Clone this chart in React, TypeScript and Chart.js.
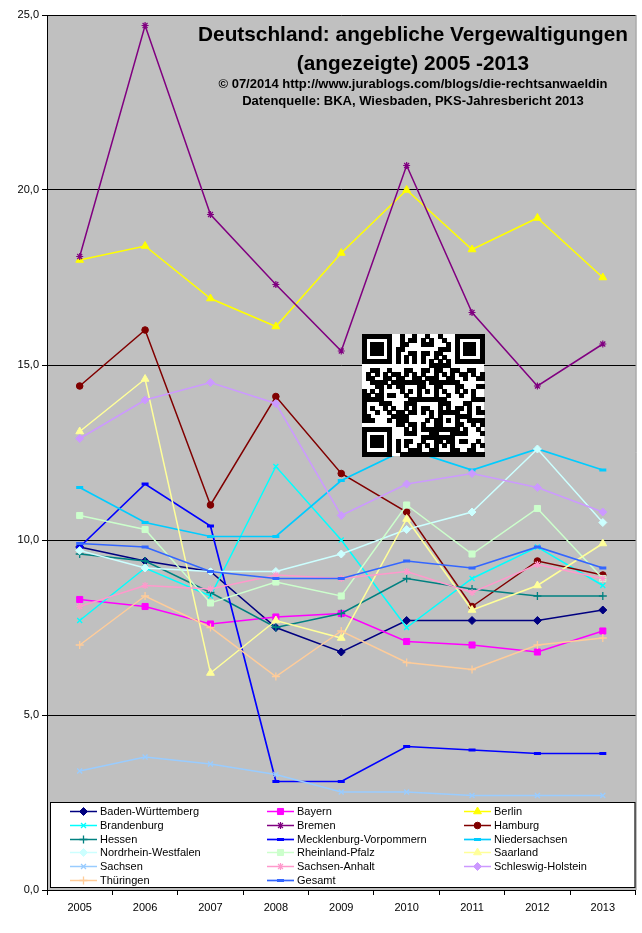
import React, { useEffect, useRef } from "react";
import { Chart, registerables } from "chart.js";
import { drawPoint } from "chart.js/helpers";

Chart.register(...registerables);

const years = ["2005", "2006", "2007", "2008", "2009", "2010", "2011", "2012", "2013"];

const badenWuerttemberg = [9.8, 9.4, 9.1, 7.5, 6.8, 7.7, 7.7, 7.7, 8.0];
const bayern = [8.3, 8.1, 7.6, 7.8, 7.9, 7.1, 7.0, 6.8, 7.4];
const berlin = [18.0, 18.4, 16.9, 16.1, 18.2, 20.0, 18.3, 19.2, 17.5];
const brandenburg = [7.7, 9.2, 8.4, 12.1, 10.0, 7.5, 8.9, 9.8, 8.7];
const bremen = [18.1, 24.7, 19.3, 17.3, 15.4, 20.7, 16.5, 14.4, 15.6];
const hamburg = [14.4, 16.0, 11.0, 14.1, 11.9, 10.8, 8.1, 9.4, 9.0];
const hessen = [9.6, 9.4, 8.5, 7.5, 7.9, 8.9, 8.6, 8.4, 8.4];
const mecklenburgVorpommern = [9.8, 11.6, 10.4, 3.1, 3.1, 4.1, 4.0, 3.9, 3.9];
const niedersachsen = [11.5, 10.5, 10.1, 10.1, 11.7, 12.6, 12.0, 12.6, 12.0];
const nordrheinWestfalen = [9.7, 9.2, 9.1, 9.1, 9.6, 10.3, 10.8, 12.6, 10.5];
const rheinlandPfalz = [10.7, 10.3, 8.2, 8.8, 8.4, 11.0, 9.6, 10.9, 8.9];
const saarland = [13.1, 14.6, 6.2, 7.7, 7.2, 10.6, 8.0, 8.7, 9.9];
const sachsen = [3.4, 3.8, 3.6, 3.3, 2.8, 2.8, 2.7, 2.7, 2.7];
const sachsenAnhalt = [8.1, 8.7, 8.6, 9.0, 8.9, 9.1, 8.5, 9.3, 8.9];
const schleswigHolstein = [12.9, 14.0, 14.5, 13.9, 10.7, 11.6, 11.9, 11.5, 10.8];
const thueringen = [7.0, 8.4, 7.5, 6.1, 7.4, 6.5, 6.3, 7.0, 7.2];
const gesamt = [9.9, 9.8, 9.1, 8.9, 8.9, 9.4, 9.2, 9.8, 9.2];

const yTicks = [0, 5, 10, 15, 20, 25];

const titleLines = [
  "Deutschland: angebliche Vergewaltigungen",
  "(angezeigte) 2005 -2013",
  "© 07/2014 http://www.jurablogs.com/blogs/die-rechtsanwaeldin",
  "Datenquelle: BKA, Wiesbaden, PKS-Jahresbericht 2013",
];

const FONT = '"Liberation Sans", Arial, sans-serif';

type SeriesDef = {
  label: string;
  data: number[];
  color: string;
  style: string;
  radius: number;
  bw: number;
  lw: number;
};

const series: SeriesDef[] = [
  { label: "Baden-Württemberg", data: badenWuerttemberg, color: "#000080", style: "rectRot", radius: 4, bw: 1, lw: 1.5 },
  { label: "Bayern", data: bayern, color: "#FF00FF", style: "rect", radius: 4.3, bw: 1, lw: 1.5 },
  { label: "Berlin", data: berlin, color: "#FFFF00", style: "triangle", radius: 4.5, bw: 1, lw: 1.5 },
  { label: "Brandenburg", data: brandenburg, color: "#00FFFF", style: "crossRot", radius: 3.5, bw: 1.3, lw: 1.5 },
  { label: "Bremen", data: bremen, color: "#800080", style: "star", radius: 3.5, bw: 1.2, lw: 1.5 },
  { label: "Hamburg", data: hamburg, color: "#800000", style: "circle", radius: 3.3, bw: 1, lw: 1.5 },
  { label: "Hessen", data: hessen, color: "#008080", style: "cross", radius: 4, bw: 1.3, lw: 1.5 },
  { label: "Mecklenburg-Vorpommern", data: mecklenburgVorpommern, color: "#0000FF", style: "line", radius: 3.5, bw: 3, lw: 1.7 },
  { label: "Niedersachsen", data: niedersachsen, color: "#00CCFF", style: "line", radius: 3.5, bw: 3, lw: 1.7 },
  { label: "Nordrhein-Westfalen", data: nordrheinWestfalen, color: "#CCFFFF", style: "rectRot", radius: 4, bw: 1, lw: 1.5 },
  { label: "Rheinland-Pfalz", data: rheinlandPfalz, color: "#CCFFCC", style: "rect", radius: 4.3, bw: 1, lw: 1.5 },
  { label: "Saarland", data: saarland, color: "#FFFF99", style: "triangle", radius: 4.5, bw: 1, lw: 1.5 },
  { label: "Sachsen", data: sachsen, color: "#99CCFF", style: "crossRot", radius: 3.5, bw: 1.3, lw: 1.5 },
  { label: "Sachsen-Anhalt", data: sachsenAnhalt, color: "#FF99CC", style: "star", radius: 3.5, bw: 1.2, lw: 1.5 },
  { label: "Schleswig-Holstein", data: schleswigHolstein, color: "#CC99FF", style: "rectRot", radius: 4, bw: 1, lw: 1.5 },
  { label: "Thüringen", data: thueringen, color: "#FFCC99", style: "cross", radius: 4, bw: 1.3, lw: 1.5 },
  { label: "Gesamt", data: gesamt, color: "#3366FF", style: "line", radius: 3.5, bw: 3, lw: 1.7 },
];

function qrModule(r: number, c: number, n: number): boolean {
  const inFinder = (r0: number, c0: number) => r >= r0 && r < r0 + 7 && c >= c0 && c < c0 + 7;
  const finder = (r0: number, c0: number) => {
    const rr = r - r0, cc = c - c0;
    if (rr === 0 || rr === 6 || cc === 0 || cc === 6) return true;
    if (rr >= 2 && rr <= 4 && cc >= 2 && cc <= 4) return true;
    return false;
  };
  if (inFinder(0, 0)) return finder(0, 0);
  if (inFinder(0, n - 7)) return finder(0, n - 7);
  if (inFinder(n - 7, 0)) return finder(n - 7, 0);
  if ((r === 7 && (c < 8 || c >= n - 8)) || (c === 7 && (r < 8 || r >= n - 8)) || (r === n - 8 && c < 8) || (c === n - 8 && r < 8)) return false;
  const a0 = n - 9;
  if (r >= a0 - 2 && r <= a0 + 2 && c >= a0 - 2 && c <= a0 + 2) {
    const d = Math.max(Math.abs(r - a0), Math.abs(c - a0));
    return d !== 1;
  }
  if (r === 6) return c % 2 === 0;
  if (c === 6) return r % 2 === 0;
  const h = (r * 131 + c * 71 + r * c * 17 + ((r ^ c) * 29)) % 23;
  return h < 11;
}

const decorPlugin = {
  id: "decor",
  beforeDraw(chart: any) {
    const { ctx, chartArea: a } = chart;
    ctx.save();
    ctx.fillStyle = "#ffffff";
    ctx.fillRect(0, 0, chart.width, chart.height);
    ctx.fillStyle = "#C0C0C0";
    ctx.fillRect(a.left, a.top, a.right - a.left, a.bottom - a.top);
    ctx.strokeStyle = "#808080";
    ctx.lineWidth = 1;
    ctx.beginPath();
    ctx.moveTo(a.right + 0.5, a.top);
    ctx.lineTo(a.right + 0.5, a.bottom);
    ctx.stroke();
    ctx.restore();
  },
  afterDatasetsDraw(chart: any) {
    const { ctx, chartArea: a } = chart;
    ctx.save();
    // QR code decoration
    const n = 29;
    const qx = 362, qy = 334, qs = 122;
    const m = qs / n;
    ctx.fillStyle = "#ffffff";
    ctx.fillRect(qx, qy, qs, qs);
    ctx.fillStyle = "#000000";
    for (let r = 0; r < n; r++) {
      for (let c = 0; c < n; c++) {
        if (qrModule(r, c, n)) {
          ctx.fillRect(Math.round(qx + c * m), Math.round(qy + r * m), Math.ceil(m), Math.ceil(m));
        }
      }
    }
    // Legend box
    const lx = 50, ly = 802, lw = a.right - 1 - 50, lh = a.bottom - 3 - 802;
    ctx.fillStyle = "#ffffff";
    ctx.fillRect(lx, ly, lw, lh);
    ctx.strokeStyle = "#000000";
    ctx.lineWidth = 1;
    ctx.strokeRect(lx + 0.5, ly + 0.5, lw, lh);
    const colX = [70, 267, 464];
    const rowY0 = 811;
    const rowH = 13.8;
    ctx.font = `11px ${FONT}`;
    ctx.textBaseline = "middle";
    ctx.textAlign = "left";
    chart.data.datasets.forEach((ds: any, i: number) => {
      const col = i % 3;
      const row = Math.floor(i / 3);
      const x = colX[col];
      const y = Math.round(rowY0 + row * rowH) + 0.5;
      ctx.strokeStyle = ds.borderColor;
      ctx.lineWidth = ds.borderWidth;
      ctx.beginPath();
      ctx.moveTo(x, y);
      ctx.lineTo(x + 27, y);
      ctx.stroke();
      ctx.fillStyle = ds.pointBackgroundColor;
      ctx.strokeStyle = ds.pointBorderColor;
      ctx.lineWidth = ds.pointBorderWidth;
      drawPoint(ctx, { pointStyle: ds.pointStyle, radius: ds.pointRadius, borderWidth: ds.pointBorderWidth, rotation: 0 }, x + 13.5, y);
      ctx.fillStyle = "#000000";
      ctx.fillText(ds.label, x + 30, y);
    });
    ctx.restore();
  },
  afterDraw(chart: any) {
    const { ctx } = chart;
    ctx.save();
    ctx.fillStyle = "#000000";
    ctx.textAlign = "center";
    ctx.textBaseline = "alphabetic";
    const cx = 413;
    ctx.font = `bold 20.8px ${FONT}`;
    ctx.fillText(titleLines[0], cx, 41);
    ctx.fillText(titleLines[1], cx, 70);
    ctx.font = `bold 13px ${FONT}`;
    ctx.fillText(titleLines[2], cx, 88);
    ctx.fillText(titleLines[3], cx, 105);
    ctx.restore();
  },
};

export default function App() {
  const ref = useRef<HTMLCanvasElement | null>(null);
  useEffect(() => {
    if (!ref.current) return;
    const chart = new Chart(ref.current, {
      type: "line",
      data: {
        labels: years,
        datasets: series.map((s, i) => ({
          label: s.label,
          data: s.data,
          order: series.length - i,
          borderColor: s.color,
          backgroundColor: s.color,
          borderWidth: s.lw,
          pointStyle: s.style as any,
          pointRadius: s.radius,
          pointHoverRadius: s.radius,
          pointBackgroundColor: s.color,
          pointBorderColor: s.color,
          pointBorderWidth: s.bw,
          tension: 0,
          fill: false,
        })),
      },
      options: {
        animation: false,
        responsive: false,
        maintainAspectRatio: false,
        devicePixelRatio: 1,
        layout: { padding: { top: 15, right: 5, left: 0, bottom: 0 } },
        plugins: {
          legend: { display: false },
          title: { display: false },
          tooltip: { enabled: false },
        },
        scales: {
          x: {
            type: "category",
            offset: true,
            grid: { offset: true, drawOnChartArea: false, color: "#000000", tickLength: 5, lineWidth: 1 },
            border: { color: "#000000", width: 1 },
            ticks: { color: "#000000", font: { family: FONT, size: 11 }, padding: 6, maxRotation: 0 },
            afterFit: (s: any) => {
              s.height = 43;
            },
          },
          y: {
            min: 0,
            max: 25,
            afterBuildTicks: (s: any) => {
              s.ticks = yTicks.map((v) => ({ value: v }));
            },
            ticks: {
              color: "#000000",
              font: { family: FONT, size: 11 },
              padding: 3,
              callback: (v: any) => Number(v).toFixed(1).replace(".", ","),
            },
            grid: { color: "#000000", lineWidth: 1, tickLength: 5 },
            border: { color: "#000000", width: 1 },
            afterFit: (s: any) => {
              s.width = 47;
            },
          },
        },
      },
      plugins: [decorPlugin],
    });
    return () => chart.destroy();
  }, []);
  return (
    <div style={{ position: "fixed", left: 0, top: 0, width: 642, height: 933, background: "#ffffff" }}>
      <canvas ref={ref} width={642} height={933} style={{ display: "block", width: 642, height: 933 }} />
    </div>
  );
}
